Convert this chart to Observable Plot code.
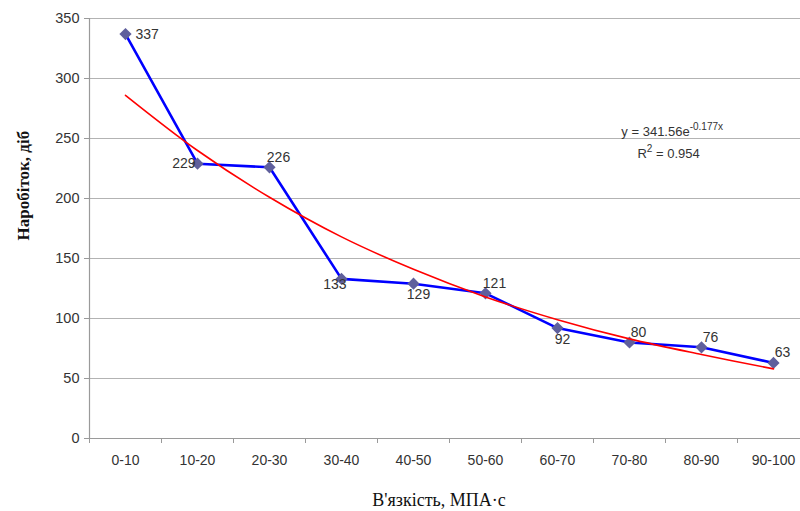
<!DOCTYPE html>
<html><head><meta charset="utf-8">
<script src="https://cdn.jsdelivr.net/npm/d3@7"></script>
<script src="https://cdn.jsdelivr.net/npm/@observablehq/plot@0.6"></script>
<style>html,body{margin:0;padding:0;background:#fff;overflow:hidden}</style>
</head><body><div id="chart"></div>
<script>
const categories = ["0-10","10-20","20-30","30-40","40-50","50-60","60-70","70-80","80-90","90-100"];
const values = [337, 229, 226, 133, 129, 121, 92, 80, 76, 63];
const trendValues = [286, 240, 201, 168, 141, 118, 99, 83, 70, 58];
const labelPlacement = ["right","left","upRight","downLeft","down","upRight","down","upRight","upRight","upRight"];
const yTicks = [0, 50, 100, 150, 200, 250, 300, 350];
const equationMain = "y = 341.56e";
const equationExp = "-0.177x";
const r2Text = "R";
const r2Exp = "2";
const r2Rest = " = 0.954";
const yTitle = "Наробіток, діб";
const xTitle = "В'язкість, МПА·с";

const rows = categories.map((c, k) => ({i: k + 1, cat: c, v: values[k], t: trendValues[k], place: labelPlacement[k]}));
const boundaries = d3.range(0, categories.length + 1).map(k => k + 0.5);

const placements = {
  right:    {dx: 10, dy: 0,  anchor: "start"},
  left:     {dx: -2, dy: 0,  anchor: "end"},
  upRight:  {dx: 9,  dy: -10, anchor: "middle"},
  downLeft: {dx: 5,  dy: 6,  anchor: "end"},
  down:     {dx: 5,  dy: 11, anchor: "middle"}
};

const font = "'Liberation Sans', Arial, sans-serif";
const serif = "'Liberation Serif', 'Times New Roman', serif";
const gridColor = "#b3b3b3";
const axisColor = "#9a9a9a";
const textColor = "#333";

const labelMarks = Object.entries(placements).map(([name, p]) =>
  Plot.text(rows.filter(d => d.place === name), {
    x: "i", y: "v", text: d => String(d.v),
    dx: p.dx, dy: p.dy, textAnchor: p.anchor,
    fontSize: 14, fill: textColor, fontFamily: font
  })
);

const plot = Plot.plot({
  width: 800,
  height: 511,
  marginLeft: 89,
  marginRight: 0,
  marginTop: 18,
  marginBottom: 73,
  style: {fontFamily: font, fontSize: "14px", color: textColor, background: "#fff"},
  x: {domain: [0.5, categories.length + 0.5], range: [89, 809]},
  y: {domain: [0, 350]},
  marks: [
    Plot.ruleY(yTicks.filter(v => v > 0), {stroke: gridColor, strokeWidth: 1.2}),
    Plot.axisY(yTicks, {tickSize: 5, tickPadding: 5, stroke: axisColor, fill: textColor, fontSize: 14.5, label: null}),
    Plot.axisX(d3.range(1, categories.length + 1), {tickSize: 0, tickPadding: 17, tickFormat: i => categories[i - 1], fill: textColor, fontSize: 14, label: null}),
    Plot.axisX(boundaries, {tickSize: 5, tickFormat: () => "", stroke: axisColor, label: null}),
    Plot.ruleX([0.5], {stroke: axisColor, strokeWidth: 1.2}),
    Plot.ruleY([0], {stroke: axisColor, strokeWidth: 1.2}),
    Plot.line(rows, {x: "i", y: "v", stroke: "#0000ff", strokeWidth: 2.6}),
    Plot.dot(rows, {x: "i", y: "v", symbol: "diamond2", r: 5.5, fill: "#5f5f9c", stroke: "none"}),
    Plot.line(rows, {x: "i", y: "t", stroke: "#ff0000", strokeWidth: 1.6, curve: "catmull-rom"}),
    ...labelMarks,
    Plot.text([yTitle], {frameAnchor: "left", rotate: -90, dx: -66, dy: 12, fontSize: 17, fontWeight: "bold", fontFamily: serif, fill: "#111", lineAnchor: "middle"}),
    Plot.text([xTitle], {frameAnchor: "bottom", dx: -6, dy: 62, fontSize: 18, fontFamily: serif, fill: "#111", lineAnchor: "middle"})
  ]
});

document.getElementById("chart").appendChild(plot);

// Trendline equation with superscripts (real text)
const svg = d3.select(plot);
const xs = plot.scale("x"), ys = plot.scale("y");
const eq = svg.append("text")
  .attr("x", xs.apply(8.6)).attr("y", ys.apply(252))
  .attr("text-anchor", "middle").attr("font-family", font).attr("font-size", 13).attr("fill", textColor);
eq.append("tspan").text(equationMain);
eq.append("tspan").attr("dy", -6).attr("font-size", 10).text(equationExp);
const r2 = svg.append("text")
  .attr("x", xs.apply(8.55)).attr("y", ys.apply(233))
  .attr("text-anchor", "middle").attr("font-family", font).attr("font-size", 13).attr("fill", textColor);
r2.append("tspan").text(r2Text);
r2.append("tspan").attr("dy", -6).attr("font-size", 10).text(r2Exp);
r2.append("tspan").attr("dy", 6).text(r2Rest);
</script>
</body></html>
